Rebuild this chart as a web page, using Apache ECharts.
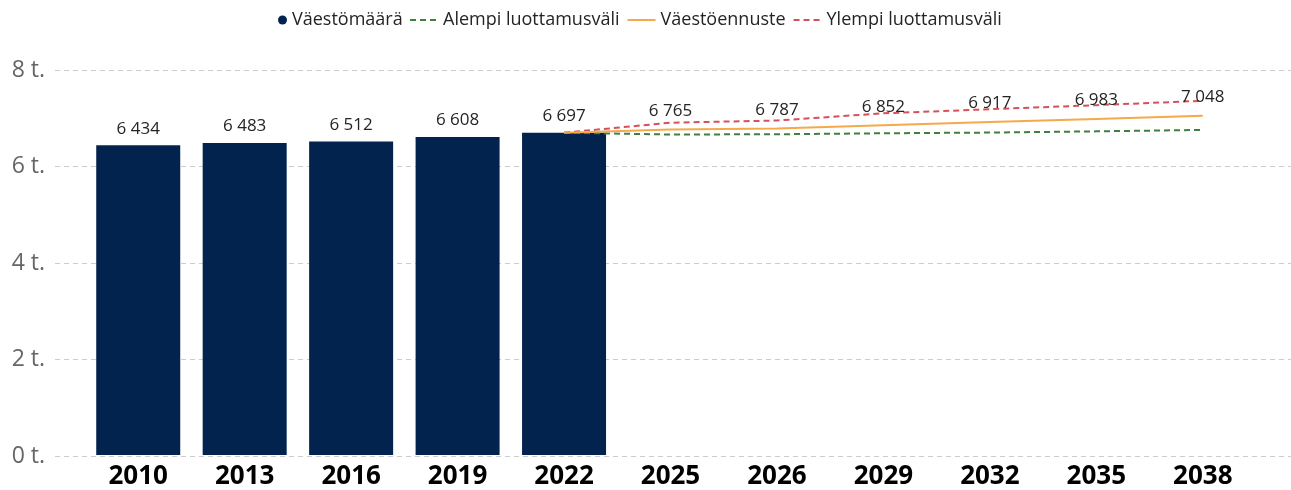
<!DOCTYPE html>
<html>
<head>
<meta charset="utf-8">
<script src="https://cdn.jsdelivr.net/npm/echarts@6/dist/echarts.min.js"></script>
<style>
  html, body { margin: 0; padding: 0; background: #fff; }
  #main { width: 1291px; height: 490px; }
</style>
</head>
<body>
<div id="main"></div>
<script>
// Väestömäärä + väestöennuste luottamusväleineen

const years = ['2010', '2013', '2016', '2019', '2022', '2025', '2026', '2029', '2032', '2035', '2038'];
const population = [6434, 6483, 6512, 6608, 6697, null, null, null, null, null, null];
const forecast = [null, null, null, null, 6697, 6765, 6787, 6852, 6917, 6983, 7048];
const lowerBound = [null, null, null, null, 6697, 6660, 6665, 6685, 6700, 6725, 6755];
const upperBound = [null, null, null, null, 6697, 6905, 6950, 7100, 7185, 7270, 7360];
const yTicks = [0, 2000, 4000, 6000, 8000];

const fmt = v => String(v).replace(/\B(?=(\d{3})+(?!\d))/g, ' ');
const font = '"Open Sans", "Noto Sans", sans-serif';
const legendText = { fontSize: 18, color: '#252423', fontFamily: font };

const chart = echarts.init(document.getElementById('main'));

const option = {
  animation: false,
  textStyle: { fontFamily: font },
  legend: [
    {
      top: 6,
      left: 273,
      itemWidth: 9,
      itemHeight: 9,
      textStyle: legendText,
      data: [{ name: 'Väestömäärä', icon: 'circle' }]
    },
    {
      top: 6,
      left: 404,
      itemWidth: 28,
      itemHeight: 10,
      itemGap: 7,
      textStyle: legendText,
      data: [
        { name: 'Alempi luottamusväli', itemStyle: { opacity: 0 } },
        { name: 'Väestöennuste', itemStyle: { opacity: 0 } },
        { name: 'Ylempi luottamusväli', itemStyle: { opacity: 0 } }
      ]
    }
  ],
  grid: [
    { left: 55, right: 0, top: 70, bottom: 34 },  // vain apuviivat
    { left: 85, right: 35, top: 70, bottom: 34 }
  ],
  xAxis: [
    { gridIndex: 0, type: 'value', min: 0, max: 1, show: false },
    {
      gridIndex: 1,
      type: 'category',
      data: years,
      axisLine: { show: false },
      axisTick: { show: false },
      axisLabel: { fontSize: 26, fontWeight: 'bold', color: '#000', margin: 9, fontFamily: font }
    }
  ],
  yAxis: [
    {
      gridIndex: 0,
      type: 'value',
      min: yTicks[0],
      max: yTicks[yTicks.length - 1],
      interval: 2000,
      axisLine: { show: false },
      axisTick: { show: false },
      axisLabel: {
        fontSize: 23, color: '#666', margin: 10, fontFamily: font,
        formatter: v => (v / 1000) + ' t.'
      },
      splitLine: { lineStyle: { type: [5, 4], color: '#cccccc', width: 1 } }
    },
    { gridIndex: 1, type: 'value', min: 0, max: 8000, show: false, splitLine: { show: false } }
  ],
  series: [
    {
      name: 'Väestömäärä',
      type: 'bar',
      xAxisIndex: 1,
      yAxisIndex: 1,
      barWidth: 84,
      itemStyle: { color: '#03234f' },
      label: {
        show: true,
        position: 'top',
        distance: 8,
        fontSize: 17,
        color: '#252423',
        fontFamily: font,
        formatter: p => fmt(p.value)
      },
      data: population
    },
    {
      name: 'Alempi luottamusväli',
      type: 'line',
      xAxisIndex: 1,
      yAxisIndex: 1,
      symbol: 'none',
      lineStyle: { color: '#3f7f3f', width: 2, type: [6, 4] },
      itemStyle: { color: '#3f7f3f' },
      data: lowerBound
    },
    {
      name: 'Väestöennuste',
      type: 'line',
      xAxisIndex: 1,
      yAxisIndex: 1,
      symbol: 'circle',
      symbolSize: 0.1,
      lineStyle: { color: '#f5a94a', width: 2 },
      itemStyle: { color: '#f5a94a' },
      label: {
        show: true,
        position: 'top',
        distance: 10,
        fontSize: 17,
        color: '#252423',
        fontFamily: font,
        formatter: p => (p.dataIndex > 4 ? fmt(p.value) : '')
      },
      z: 3,
      data: forecast
    },
    {
      name: 'Ylempi luottamusväli',
      type: 'line',
      xAxisIndex: 1,
      yAxisIndex: 1,
      symbol: 'none',
      lineStyle: { color: '#d6505a', width: 2, type: [6, 4] },
      itemStyle: { color: '#d6505a' },
      z: 2,
      data: upperBound
    }
  ]
};

chart.setOption(option);
</script>
</body>
</html>
